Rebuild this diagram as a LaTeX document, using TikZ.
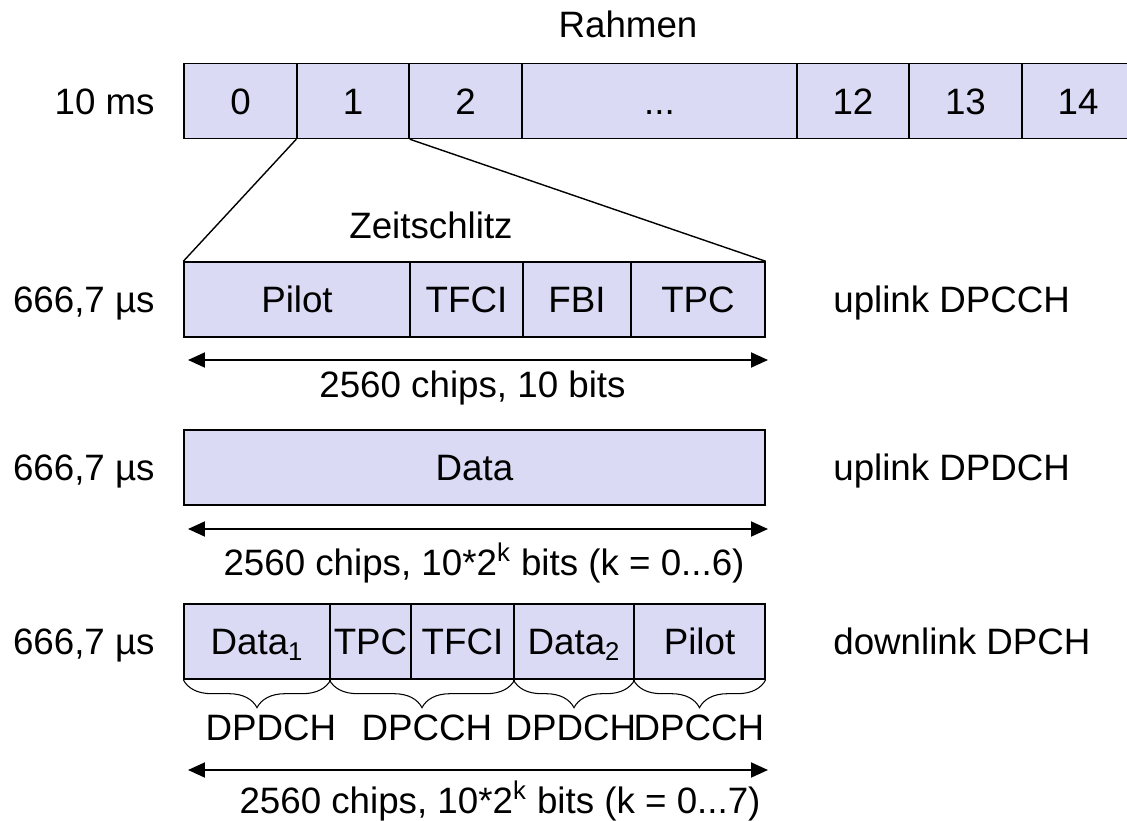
\documentclass[tikz,border=0pt]{standalone}
\usepackage{fontspec}
\setmainfont{Liberation Sans}
\usepackage{tikz}
\usetikzlibrary{shapes,arrows.meta,decorations.pathreplacing}
\definecolor{slotfill}{RGB}{218,218,244}
\tikzstyle{cell}=[rectangle, draw=black, fill=slotfill, line width=0.8pt, minimum height=1.5cm, inner sep=0pt, text height=15pt, text depth=0pt]
\tikzstyle{lbl}=[anchor=base, inner sep=0pt]
\tikzstyle{dimarrow}=[{Triangle[length=0.34cm,width=0.3cm]}-{Triangle[length=0.34cm,width=0.3cm]}, line width=1.1pt]
\tikzstyle{brc}=[decorate, decoration={brace, mirror, amplitude=0.56cm}, line width=0.6pt]
\begin{document}
\begin{tikzpicture}[x=0.02cm, y=-0.02cm, font=\fontsize{20.9}{25}\selectfont]
\useasboundingbox (0,0) rectangle (1127,821);
%Frame
\node[lbl] (rahmen) at (628,38){Rahmen};
\node[lbl, anchor=base east] (tframe) at (155,115){10 ms};
\node[cell, minimum width=2.26cm] (f0) at (240.5,101){0};
\node[cell, minimum width=2.24cm] (f1) at (353,101){1};
\node[cell, minimum width=2.26cm] (f2) at (465.5,101){2};
\node[cell, minimum width=5.5cm] (fdots) at (659.5,101){...};
\node[cell, minimum width=2.24cm] (f12) at (853,101){12};
\node[cell, minimum width=2.26cm] (f13) at (965.5,101){13};
\node[cell, minimum width=2.24cm] (f14) at (1078,101){14};

%Uplink DPCCH
\node[lbl] (zs) at (431,238){Zeitschlitz};
\node[lbl, anchor=base east] (tslot1) at (155,312.5){666,7 µs};
\node[cell, minimum width=4.52cm] (pilot) at (297,299.5){Pilot};
\node[cell, minimum width=2.26cm] (tfci) at (466.5,299.5){TFCI};
\node[cell, minimum width=2.16cm] (fbi) at (577,299.5){FBI};
\node[cell, minimum width=2.68cm] (tpc) at (698,299.5){TPC};
\node[lbl, anchor=base west] (ulcc) at (833,312.5){uplink DPCCH};
%zoom lines
\draw[line width=0.8pt] (f1.south west) -- (pilot.north west);
\draw[line width=0.8pt] (f1.south east) -- (tpc.north east);
\coordinate (a1l) at (188,360);
\coordinate (a1r) at (768,360);
\draw[dimarrow] (a1l) -- (a1r);
\node[lbl] (len1) at (472.5,397){2560 chips, 10 bits};

%Uplink DPDCH
\node[lbl, anchor=base east] (tslot2) at (155,480.5){666,7 µs};
\node[cell, minimum width=11.62cm] (data) at (474.5,467.5){Data};
\node[lbl, anchor=base west] (uldc) at (833,480.5){uplink DPDCH};
\coordinate (a2l) at (188,529);
\coordinate (a2r) at (768,529);
\draw[dimarrow] (a2l) -- (a2r);
\node[lbl] (len2) at (484,575){2560 chips, 10*2\textsuperscript{k} bits (k = 0...6)};

%Downlink DPCH
\node[lbl, anchor=base east] (tslot3) at (155,654.5){666,7 µs};
\node[cell, minimum width=2.92cm] (d1) at (257,641.5){Data\textsubscript{1}};
\node[cell, minimum width=1.62cm] (dtpc) at (370.5,641.5){TPC};
\node[cell, minimum width=2.06cm] (dtfci) at (462.5,641.5){TFCI};
\node[cell, minimum width=2.4cm] (d2) at (574,641.5){Data\textsubscript{2}};
\node[cell, minimum width=2.62cm] (dpilot) at (699.5,641.5){Pilot};
\node[lbl, anchor=base west] (dl) at (833,654.5){downlink DPCH};
%braces
\draw[brc] (d1.south west) -- (d1.south east);
\draw[brc] (dtpc.south west) -- (dtfci.south east);
\draw[brc] (d2.south west) -- (d2.south east);
\draw[brc] (dpilot.south west) -- (dpilot.south east);
\node[lbl] (b1) at (271,740){DPDCH};
\node[lbl] (b2) at (427,740){DPCCH};
\node[lbl] (b3) at (571,740){DPDCH};
\node[lbl] (b4) at (699,740){DPCCH};
\coordinate (a3l) at (188,770);
\coordinate (a3r) at (768,770);
\draw[dimarrow] (a3l) -- (a3r);
\node[lbl] (len3) at (500,813){2560 chips, 10*2\textsuperscript{k} bits (k = 0...7)};

\end{tikzpicture}
\end{document}
